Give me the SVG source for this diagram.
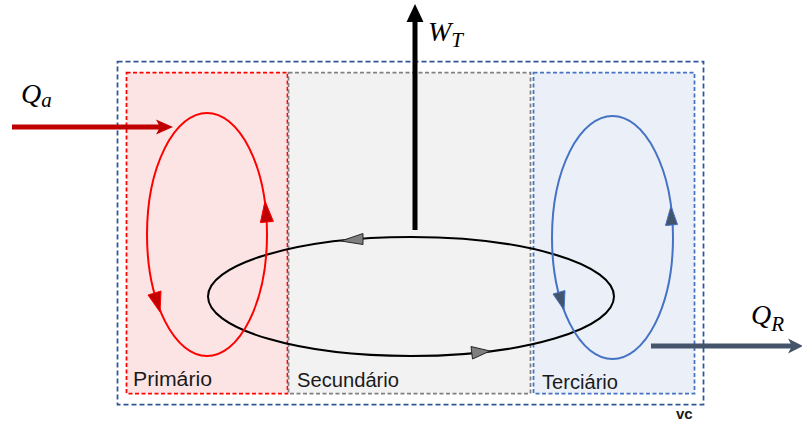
<svg xmlns="http://www.w3.org/2000/svg" width="802" height="421" viewBox="0 0 802 421">
<style>
.lbl{font-family:"Liberation Sans",Arial,sans-serif;font-size:20px;fill:#1a1a1a}
.math{font-family:"Liberation Serif","DejaVu Serif",serif;font-style:italic;fill:#000}
.ell{fill:none;stroke-width:2}
.box{stroke-width:1.75;stroke-dasharray:4,2.5}
</style>
<rect width="802" height="421" fill="#ffffff"/>
<g id="vc">
<rect x="117.5" y="61.5" width="586" height="343" fill="none" stroke="#2F5597" stroke-width="1.75" stroke-dasharray="5,3"/>
<text x="676" y="419" style="font-family:'Liberation Sans',Arial,sans-serif;font-size:15px;font-weight:bold;fill:#1a1a1a">vc</text>
</g>
<g id="primario">
<rect class="box" x="126.5" y="72.5" width="161" height="321" fill="#FDE4E4" stroke="#FF0000"/>
<text class="lbl" x="133" y="386" textLength="79" lengthAdjust="spacingAndGlyphs">Primário</text>
</g>
<g id="secundario">
<rect class="box" x="288.5" y="72.5" width="242" height="321" fill="#F2F2F2" stroke="#808080"/>
<text class="lbl" x="297" y="387" textLength="102" lengthAdjust="spacingAndGlyphs">Secundário</text>
</g>
<g id="terciario">
<rect class="box" x="533.5" y="72.5" width="161" height="321" fill="#EAEFF8" stroke="#4472C4"/>
<text class="lbl" x="542" y="389" textLength="76" lengthAdjust="spacingAndGlyphs">Terciário</text>
</g>
<g id="connectors">
<line x1="415" y1="230" x2="415" y2="20" stroke="#000" stroke-width="5"/>
<polygon points="415,4 406.5,22 423.5,22" fill="#000"/>
<ellipse class="ell" cx="411" cy="296.5" rx="203" ry="59.5" stroke="#000"/>
<polygon points="341,241 363,233.5 363,244.5" fill="#7F7F7F" stroke="#262626" stroke-width="1"/>
<polygon points="490,351 471,346.5 472.5,359" fill="#7F7F7F" stroke="#262626" stroke-width="1"/>
<ellipse class="ell" cx="207" cy="234.5" rx="60" ry="121.5" stroke="#FF0000"/>
<polygon points="265,201 260.4,222.6 273.4,221.4" fill="#C00000" stroke="#FF0000" stroke-width="1"/>
<polygon points="160,312 148,295 161,291" fill="#C00000" stroke="#FF0000" stroke-width="1"/>
<ellipse class="ell" cx="612.5" cy="237.5" rx="60.5" ry="121.5" stroke="#4472C4"/>
<polygon points="671,206 665.5,225.5 677.5,224.5" fill="#44546A" stroke="#4472C4" stroke-width="1"/>
<polygon points="564,310 553,294 565,290.5" fill="#44546A" stroke="#4472C4" stroke-width="1"/>
<line x1="12" y1="127" x2="160" y2="127" stroke="#C00000" stroke-width="5"/>
<polygon points="173,127 156,119.5 160,127 156,134.5" fill="#C00000"/>
<line x1="651" y1="346" x2="795" y2="346" stroke="#44546A" stroke-width="5"/>
<polygon points="803,346 788,338.5 792,346 788,353.5" fill="#44546A"/>
</g>
<g id="labels">
<text class="math" x="21" y="103" font-size="28">Q<tspan font-size="21" dy="4">a</tspan></text>
<text class="math" x="428" y="41" font-size="28">W<tspan font-size="21" dy="6">T</tspan></text>
<text class="math" x="751" y="324" font-size="28">Q<tspan font-size="21" dy="7">R</tspan></text>
</g>
</svg>
